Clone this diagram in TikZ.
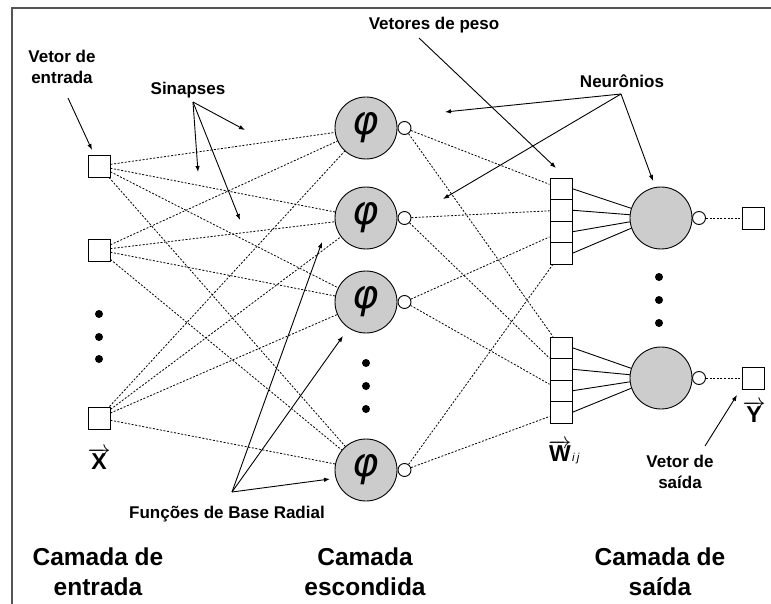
\documentclass[tikz,border=0pt]{standalone}
\usepackage{fontspec}
\setmainfont{Liberation Sans}
\newfontfamily\phifont{DejaVu Sans}
\usetikzlibrary{arrows.meta}
\definecolor{nfill}{HTML}{CCCCCC}
\definecolor{framec}{HTML}{555555}
\begin{document}
\begin{tikzpicture}[x=1pt,y=-1pt,
  insq/.style={draw, line width=0.9pt, minimum size=22pt, inner sep=0pt, fill=white},
  wcell/.style={draw, line width=0.9pt, minimum width=22pt, minimum height=21.5pt, inner sep=0pt, fill=white},
  neuron/.style={circle, draw, line width=0.9pt, fill=nfill, minimum size=62pt, inner sep=0pt},
  outc/.style={circle, draw, line width=0.9pt, fill=white, minimum size=13pt, inner sep=0pt},
  dotc/.style={circle, fill=black, minimum size=8pt, inner sep=0pt},
  syn/.style={line width=0.8pt, dash pattern=on 2pt off 1.6pt},
  wline/.style={line width=0.9pt},
  ann/.style={line width=0.9pt, -{Latex[length=6pt,width=4.5pt]}},
  lbl/.style={font=\bfseries\fontsize{17}{21}\selectfont, align=center, inner sep=0pt},
  layerlbl/.style={font=\bfseries\fontsize{24.5}{30}\selectfont, align=center, inner sep=0pt},
  veclbl/.style={font=\bfseries\fontsize{10}{12}\selectfont, inner sep=0pt, scale=2.3},
  phistyle/.style={inner sep=0pt, font=\phifont\itshape\fontsize{40}{40}\selectfont}
]
\useasboundingbox (0,0) rectangle (771,604);
% frame
\draw[framec, line width=1.3pt] (12,604) -- (12,8) -- (771,8);

% input layer
\node[insq] (i1) at (99,166) {};
\node[insq] (i2) at (99,250) {};
\node[insq] (i3) at (99,418) {};
\foreach \y [count=\k] in {314,337,359} \node[dotc] (idot\k) at (99,\y) {};

% hidden layer
\foreach \y [count=\k] in {128,218,302,470} {
  \node[neuron] (h\k) at (366,\y) {};
  \node[phistyle] (phi\k) at (366,\y) {φ};
  \node[outc] (ho\k) at (404.5,\y) {};
}
\foreach \y [count=\k] in {363,386,409} \node[dotc] (hdot\k) at (366,\y) {};

% weight vectors
\foreach \y [count=\k] in {188.75,210.25,231.75,253.25} \node[wcell] (t\k) at (561,\y) {};
\foreach \y [count=\k] in {347.75,369.25,390.75,412.25} \node[wcell] (b\k) at (561,\y) {};

% output layer
\node[neuron] (o1) at (661,218) {};
\node[neuron] (o2) at (661,378) {};
\node[outc] (oo1) at (699,218) {};
\node[outc] (oo2) at (699,378) {};
\node[insq] (y1) at (753.5,218) {};
\node[insq] (y2) at (753.5,378) {};
\foreach \y [count=\k] in {277,300,323} \node[dotc] (odot\k) at (659,\y) {};

% synapses input -> hidden
\foreach \i in {1,2,3} \foreach \h in {1,2,3,4} \draw[syn] (i\i) -- (h\h);
% hidden -> weight vectors
\foreach \k in {1,2,3,4} {
  \draw[syn] (ho\k) -- (t\k);
  \draw[syn] (ho\k) -- (b\k);
}
% weight cells -> output neurons
\foreach \k/\a in {1/162,2/174,3/187,4/199} {
  \draw[wline] (t\k.east) -- (o1.\a);
  \draw[wline] (b\k.east) -- (o2.\a);
}
\draw[syn] (oo1) -- (y1);
\draw[syn] (oo2) -- (y2);

% vector labels
\node[veclbl] (xl) at (99,459) {$\overrightarrow{\mbox{\bfseries X}}$};
\node[veclbl] (yl) at (754,412) {$\overrightarrow{\mbox{\bfseries Y}}$};
\node[veclbl, anchor=west] (wl) at (548,452) {$\overrightarrow{\mbox{\bfseries W}}$\kern0.3pt{\mdseries\itshape\fontsize{5}{5}\selectfont i\kern1pt j}};

% annotations
\node[lbl] (vin) at (62,67) {Vetor de\\entrada};
\coordinate (vinA) at (68,98);
\coordinate (vinT) at (92,150);
\draw[ann] (vinA) -- (vinT);

\node[lbl] (sin) at (188,90) {Sinapses};
\coordinate (sinA) at (193,102);
\coordinate (sinT1) at (245,130);
\coordinate (sinT2) at (198,172);
\coordinate (sinT3) at (240,220);
\draw[ann] (sinA) -- (sinT1);
\draw[ann] (sinA) -- (sinT2);
\draw[ann] (sinA) -- (sinT3);

\node[lbl] (vp) at (434,25) {Vetores de peso};
\coordinate (vpA) at (419,38);
\coordinate (vpT) at (556,168);
\draw[ann] (vpA) -- (vpT);

\node[lbl] (neu) at (622,81) {Neurônios};
\coordinate (neuA) at (621,94);
\coordinate (neuT1) at (445,112);
\coordinate (neuT2) at (443,199);
\coordinate (neuT3) at (653,181);
\draw[ann] (neuA) -- (neuT1);
\draw[ann] (neuA) -- (neuT2);
\draw[ann] (neuA) -- (neuT3);

\node[lbl] (fbr) at (227,514) {Funções de Base Radial};
\coordinate (fbrA) at (232,492);
\coordinate (fbrT1) at (322,242);
\coordinate (fbrT2) at (343,336);
\coordinate (fbrT3) at (330,479);
\draw[ann] (fbrA) -- (fbrT1);
\draw[ann] (fbrA) -- (fbrT2);
\draw[ann] (fbrA) -- (fbrT3);

\node[lbl] (vout) at (680,472) {Vetor de\\saída};
\coordinate (voutA) at (705,446);
\coordinate (voutT) at (737,395);
\draw[ann] (voutA) -- (voutT);

% layer labels
\node[layerlbl] (L1) at (98,572) {Camada de\\entrada};
\node[layerlbl] (L2) at (365,572) {Camada\\escondida};
\node[layerlbl] (L3) at (660,572) {Camada de\\saída};
\end{tikzpicture}
\end{document}
